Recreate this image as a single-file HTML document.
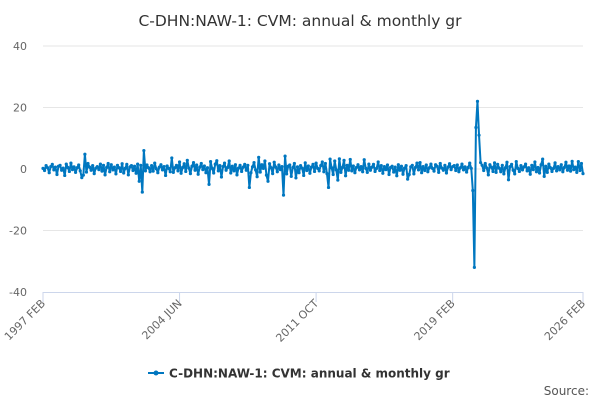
<!DOCTYPE html>
<html><head><meta charset="utf-8"><style>
body{margin:0;background:#fff;font-family:"Liberation Sans",sans-serif;}
svg{display:block}
</style></head><body>
<svg id="chart" width="600" height="400">
<text x="300" y="26" text-anchor="middle" font-size="15.5" font-family="DejaVu Sans, sans-serif" fill="#333">C-DHN:NAW-1: CVM: annual &amp; monthly gr</text>
<g id="grid"></g><g id="xaxis"></g><g id="series"></g>
<g>
<line x1="148" y1="373" x2="164" y2="373" stroke="#0077c0" stroke-width="2"/>
<circle cx="156" cy="373" r="2.5" fill="#0077c0"/>
<text x="169" y="377.5" font-size="12" font-weight="bold" font-family="DejaVu Sans, sans-serif" fill="#333">C-DHN:NAW-1: CVM: annual &amp; monthly gr</text>
</g>
<text x="589" y="395" text-anchor="end" font-size="12" font-family="DejaVu Sans, sans-serif" fill="#555">Source:</text>
</svg>
<script>
const yTicks=[40,20,0,-20,-40];
const xTickLabels=["1997 FEB","2004 JUN","2011 OCT","2019 FEB","2026 FEB"];
const xTickIdx=[0,88,176,264,348];
const values=[
0.2,-0.5,1.1,0.4,-1.2,0.8,1.5,-0.3,0.6,-1.8,0.9,
1.2,-0.4,0.3,-2.1,1.6,0.5,-0.8,1.9,-0.2,0.7,-1.1,0.4,
1.3,-0.6,-2.8,-2.0,4.8,-1.0,1.8,0.6,-0.4,1.1,-1.5,0.3,
0.8,-0.2,1.6,-0.7,1.2,-1.9,0.5,1.8,-0.9,1.4,-0.3,0.6,
-1.6,1.2,0.4,-0.8,1.7,-1.3,0.2,1.5,-1.9,0.7,1.1,-0.5,
0.9,-1.4,1.6,-4.0,1.2,-7.5,6.0,-0.6,1.3,0.4,-0.9,1.1,
-0.7,1.9,0.1,-1.2,0.6,1.4,-0.3,0.8,-2.1,1.0,0.2,-0.9,
3.6,-1.1,0.4,1.2,-0.6,2.3,-1.4,0.5,1.7,-0.8,2.8,0.3,
-1.5,0.9,2.1,-0.4,1.3,-1.7,0.6,1.8,-0.2,1.0,-1.2,0.4,
-5.0,2.4,0.2,-1.3,1.6,2.7,-0.6,1.1,-2.6,0.8,1.9,-0.4,
0.5,2.6,-1.3,0.9,-0.6,1.4,-1.9,0.3,1.2,-0.8,0.6,1.5,
-0.4,1.2,-6.0,-1.2,0.7,2.1,-0.3,-2.5,3.8,-1.0,1.4,0.2,
2.6,-2.0,-4.0,1.7,0.4,-1.5,2.2,0.6,-0.9,1.3,-0.2,0.8,
-8.5,4.2,-1.6,0.9,1.3,-2.4,0.5,1.8,-2.9,0.7,-1.2,1.1,
0.3,-2.1,2.0,-0.5,1.0,-1.4,0.6,1.5,-0.8,1.9,0.2,-0.6,
1.1,2.3,-0.9,1.8,-1.5,-6.0,3.2,0.4,-1.8,2.6,-0.3,-3.6,
3.3,-1.1,0.5,2.8,-2.2,1.2,-0.4,3.1,-0.6,1.0,-1.2,0.5,
1.4,-0.3,0.8,-0.9,3.0,0.2,-1.1,1.6,-0.4,0.6,1.5,-0.8,
0.2,2.3,-0.5,1.1,-1.4,0.8,-0.2,1.3,-1.8,0.5,0.9,-1.0,
0.6,-2.2,1.4,-0.4,0.9,-1.7,0.3,1.1,-3.3,-1.8,0.7,1.2,
-1.6,0.5,1.9,-0.3,2.1,-1.2,0.8,-0.5,1.3,-0.9,0.4,1.6,
0.2,-0.7,1.4,0.9,-1.1,1.8,0.3,-0.4,1.2,-1.3,0.6,1.7,
-0.2,0.8,1.1,-0.5,1.3,-0.9,0.4,1.6,-0.3,0.7,-1.0,0.5,
1.9,0.2,-7.0,-32.0,13.5,22.0,11.0,2.1,1.2,-0.5,1.8,0.3,
-1.9,1.4,0.6,-0.8,2.0,-1.1,1.5,0.3,-0.9,1.2,-1.6,0.4,
2.2,-3.5,0.8,1.5,-0.4,-1.6,2.4,0.2,-0.8,1.1,-0.3,0.7,
1.6,-0.6,0.4,-1.7,1.2,-0.2,2.3,-0.9,0.5,-1.3,1.4,3.2,
-2.4,0.9,-1.1,1.6,0.4,-0.8,0.2,2.0,-0.6,0.8,-0.3,1.4,
-0.9,0.5,2.2,-0.4,1.0,-0.7,2.5,-0.2,0.6,-1.1,2.4,-0.5,
1.8,-1.5];
const NS="http://www.w3.org/2000/svg";
const X0=43,X1=583,Y0=292,Y1=46,N=348;
const xS=i=>X0+(X1-X0)*i/N;
const yS=v=>Y0+(Y1-Y0)*(v+40)/80;
function mk(t,a,p){const e=document.createElementNS(NS,t);for(const k in a)e.setAttribute(k,a[k]);p.appendChild(e);return e;}
const grid=document.getElementById('grid');
yTicks.forEach(v=>{
 if(v!==-40){const l=mk('line',{x1:X0,x2:X1,y1:yS(v),y2:yS(v),stroke:'#e6e6e6'},grid);
 
 }
 const t=mk('text',{x:27,y:yS(v)+4,'text-anchor':'end','font-size':11,'font-family':'DejaVu Sans, sans-serif',fill:'#666'},grid);
 t.textContent=v;
 
 
});
const xa=document.getElementById('xaxis');
const ax=mk('line',{x1:X0,x2:X1,y1:Y0+0.5,y2:Y0+0.5,stroke:'#ccd6eb'},xa);


xTickIdx.forEach((ix,k)=>{
 const x=xS(ix);
 mk('line',{x1:x,x2:x,y1:Y0,y2:Y0+10,stroke:'#ccd6eb'},xa);
 const t=mk('text',{x:x+3,y:Y0+12,'text-anchor':'end','font-size':11,'font-family':'DejaVu Sans, sans-serif',fill:'#666',transform:`rotate(-45 ${x+3} ${Y0+12})`},xa);
 t.textContent=xTickLabels[k];
 
 
});
const s=document.getElementById('series');
const pts=values.map((v,i)=>xS(i).toFixed(2)+','+yS(v).toFixed(2)).join(' ');
const pl=mk('polyline',{points:pts,fill:'none',stroke:'#0077c0','stroke-width':2,'stroke-linejoin':'round'},s);


values.forEach((v,i)=>{
 const c=mk('circle',{cx:xS(i),cy:yS(v),r:1.6,fill:'#0077c0'},s);
 
 
});
</script>
</body></html>
